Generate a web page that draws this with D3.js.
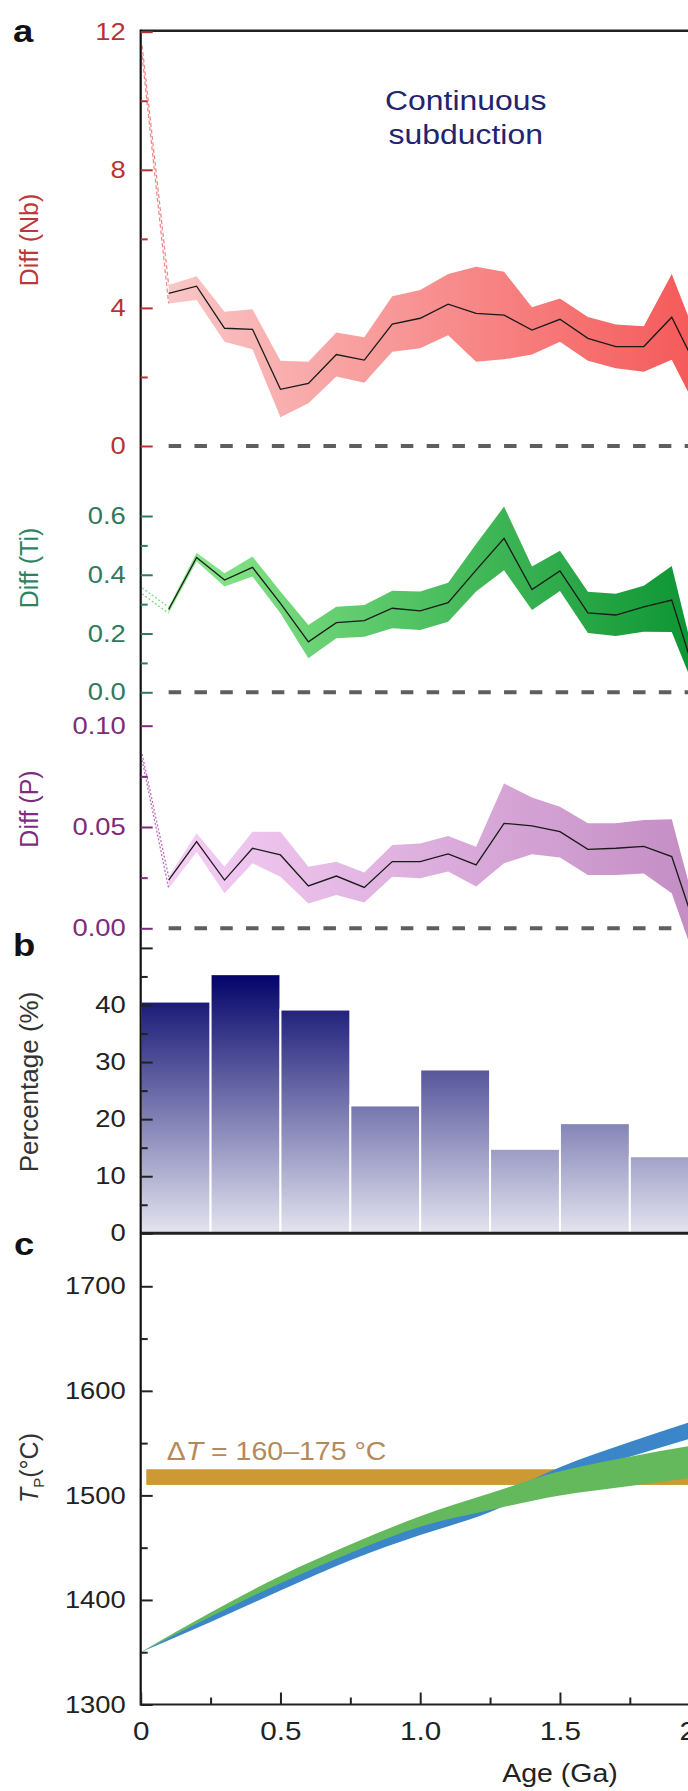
<!DOCTYPE html>
<html lang="en">
<head>
<meta charset="UTF-8">
<title>Diff, percentage and Tp against age</title>
<script src="https://d3js.org/d3.v7.min.js"></script>
<style>
  body { margin: 0; background: #fff; }
  svg { display: block; font-family: "Liberation Sans", Arial, sans-serif; }
</style>
</head>
<body>
<svg id="chart" width="688" height="1791"></svg>
<script>
// ---- data ----
const ages = [0.1, 0.2, 0.3, 0.4, 0.5, 0.6, 0.7, 0.8, 0.9, 1.0, 1.1, 1.2, 1.3, 1.4, 1.5, 1.6, 1.7, 1.8, 1.9, 2.0];

const nbMean  = [4.42, 4.63, 3.41, 3.38, 1.64, 1.81, 2.65, 2.49, 3.53, 3.70, 4.11, 3.84, 3.79, 3.36, 3.67, 3.12, 2.88, 2.88, 3.73, 2.10];
const nbUpper = [4.66, 4.92, 3.89, 3.96, 2.47, 2.44, 3.29, 3.15, 4.34, 4.52, 4.98, 5.19, 5.05, 4.02, 4.27, 3.74, 3.52, 3.47, 4.98, 2.90];
const nbLower = [4.13, 4.23, 3.02, 2.80, 0.83, 1.24, 2.01, 1.83, 2.73, 2.83, 3.21, 2.44, 2.51, 2.65, 3.02, 2.47, 2.25, 2.15, 2.50, 0.90];
const nbLead  = [11.6, 11.3];

const tiMean  = [0.282, 0.459, 0.382, 0.425, 0.303, 0.172, 0.237, 0.244, 0.286, 0.277, 0.305, 0.416, 0.524, 0.350, 0.413, 0.270, 0.263, 0.291, 0.314, 0.010];
const tiUpper = [0.290, 0.475, 0.405, 0.462, 0.343, 0.229, 0.291, 0.297, 0.346, 0.343, 0.373, 0.505, 0.632, 0.428, 0.482, 0.342, 0.335, 0.363, 0.430, 0.040];
const tiLower = [0.269, 0.445, 0.360, 0.394, 0.269, 0.116, 0.184, 0.189, 0.218, 0.212, 0.240, 0.343, 0.415, 0.280, 0.345, 0.202, 0.192, 0.206, 0.205, -0.030];
const tiLead  = [0.355, 0.335];

const pMean  = [0.0238, 0.0428, 0.0238, 0.0395, 0.0362, 0.0209, 0.0258, 0.0202, 0.0329, 0.0329, 0.0367, 0.0313, 0.0518, 0.0506, 0.0477, 0.0390, 0.0395, 0.0404, 0.0354, -0.006];
const pUpper = [0.0255, 0.0469, 0.0304, 0.0477, 0.0477, 0.0304, 0.0329, 0.0275, 0.0411, 0.0419, 0.0456, 0.0403, 0.0715, 0.0646, 0.0600, 0.0518, 0.0518, 0.0535, 0.0538, 0.002];
const pLower = [0.0197, 0.0378, 0.0173, 0.0321, 0.0255, 0.0123, 0.0164, 0.0127, 0.0255, 0.0247, 0.0280, 0.0206, 0.0321, 0.0366, 0.0350, 0.0263, 0.0263, 0.0271, 0.0173, -0.022];
const pLead  = [0.086, 0.083];

const barStarts = [0, 0.25, 0.5, 0.75, 1.0, 1.25, 1.5, 1.75];
const barValues = [40.6, 45.4, 39.2, 22.4, 28.7, 14.8, 19.3, 13.5];

const tpAges       = [0, 0.25, 0.5, 0.75, 1.0, 1.25, 1.5, 1.75, 2.0];
const blueUpper    = [1350, 1385, 1417, 1446, 1472, 1497, 1527, 1551, 1573];
const blueLower    = [1350, 1379, 1409, 1438, 1462, 1484, 1516, 1537, 1557];
const greenUpper   = [1350, 1388, 1423, 1453, 1480, 1502, 1523, 1537, 1549];
const greenLower   = [1350, 1384, 1416, 1445, 1470, 1486, 1500, 1509, 1518];
const deltaTBand   = [1510, 1525];

// ---- layout ----
const SX = 1.14;           // the figure is a little wider than tall in its type
const X0 = 140.7;
const svg = d3.select("#chart");
const defs = svg.append("defs");

const x = d3.scaleLinear().domain([0, 2]).range([X0, 699.7]);
const xEnd = x(2.6);

const yNb = d3.scaleLinear().domain([0, 12]).range([446, 31.7]);
const yTi = d3.scaleLinear().domain([0, 0.6]).range([692.3, 516]);
const yP  = d3.scaleLinear().domain([0, 0.1]).range([928.3, 725.7]);
const yB  = d3.scaleLinear().domain([0, 50]).range([1233.3, 947.9]);
const yT  = d3.scaleLinear().domain([1300, 1750]).range([1704.5, 1234]);

function hGrad(id, c0, c1) {
  const g = defs.append("linearGradient").attr("id", id)
    .attr("gradientUnits", "userSpaceOnUse")
    .attr("x1", x(0.1)).attr("x2", x(2.0)).attr("y1", 0).attr("y2", 0);
  g.append("stop").attr("offset", 0).attr("stop-color", c0);
  g.append("stop").attr("offset", 1).attr("stop-color", c1);
}
hGrad("gNb", "#fac6c6", "#f55858");
hGrad("gTi", "#8eea8e", "#0c9432");
hGrad("gP", "#f5cef5", "#c38dc3");

const barGrad = defs.append("linearGradient").attr("id", "gBar")
  .attr("gradientUnits", "userSpaceOnUse")
  .attr("x1", 0).attr("x2", 0).attr("y1", yB(45.4)).attr("y2", yB(0));
barGrad.append("stop").attr("offset", 0).attr("stop-color", "#03036a");
barGrad.append("stop").attr("offset", 1).attr("stop-color", "#e4e4f0");

// stretch text horizontally around its own anchor
function stretch(sel) {
  sel.each(function() {
    const t = d3.select(this);
    const tx = +t.attr("x") || 0;
    t.attr("x", tx / SX).attr("transform", `scale(${SX},1)`);
  });
}
function label(px, py, txt, opts) {
  const t = svg.append("text")
    .attr("transform", `translate(${px},${py}) scale(${SX},1)`)
    .attr("font-size", opts.size)
    .attr("fill", opts.color || "#222")
    .attr("text-anchor", opts.anchor || "start")
    .attr("font-weight", opts.weight || "normal")
    .text(txt);
  return t;
}
function vlabel(px, py, txt, size, color) {
  return svg.append("text")
    .attr("transform", `translate(${px},${py}) rotate(-90)`)
    .attr("text-anchor", "middle").attr("dy", "0.35em")
    .attr("font-size", size).attr("fill", color)
    .text(txt);
}

// ---- zero reference lines ----
[yNb, yTi, yP].forEach(s => {
  svg.append("line")
    .attr("x1", x(0.1)).attr("x2", xEnd)
    .attr("y1", s(0)).attr("y2", s(0))
    .attr("stroke", "#5e5e5e").attr("stroke-width", 4)
    .attr("stroke-dasharray", "12.5,13.3");
});

// ---- panel a: difference bands ----
const diffPanels = [
  { y: yNb, mean: nbMean, up: nbUpper, lo: nbLower, lead: nbLead, fill: "url(#gNb)", leadColor: "#f08a8a", dash: "4,2.5" },
  { y: yTi, mean: tiMean, up: tiUpper, lo: tiLower, lead: tiLead, fill: "url(#gTi)", leadColor: "#7fd87f", dash: "2,2" },
  { y: yP,  mean: pMean,  up: pUpper,  lo: pLower,  lead: pLead,  fill: "url(#gP)",  leadColor: "#c06cc0", dash: "2,2" }
];
const idx = d3.range(ages.length);

diffPanels.forEach(p => {
  const area = d3.area()
    .x(i => x(ages[i]))
    .y0(i => p.y(p.lo[i]))
    .y1(i => p.y(p.up[i]));
  svg.append("path").datum(idx).attr("d", area).attr("fill", p.fill);

  const line = d3.line().x(i => x(ages[i])).y(i => p.y(p.mean[i]));
  svg.append("path").datum(idx).attr("d", line)
    .attr("fill", "none").attr("stroke", "#1a1a1a").attr("stroke-width", 1.3);

  // leading segments from age 0 to the first sample
  [[p.lead[0], p.up[0]], [p.lead[1], p.lo[0]]].forEach(([a, b]) => {
    svg.append("line")
      .attr("x1", x(0.005)).attr("y1", p.y(a))
      .attr("x2", x(ages[0])).attr("y2", p.y(b))
      .attr("stroke", p.leadColor).attr("stroke-width", 1.3)
      .attr("stroke-dasharray", p.dash);
  });
});

// ---- panel b: bars ----
svg.append("g").selectAll("rect").data(barValues).join("rect")
  .attr("x", (d, i) => x(barStarts[i]))
  .attr("width", (d, i) => x(barStarts[i] + 0.25) - x(barStarts[i]))
  .attr("y", d => yB(d))
  .attr("height", d => yB(0) - yB(d))
  .attr("fill", "url(#gBar)")
  .attr("stroke", "#fff").attr("stroke-width", 2);

// ---- panel c: potential temperature ----
svg.append("rect")
  .attr("x", x(0.02)).attr("width", xEnd - x(0.02))
  .attr("y", yT(deltaTBand[1])).attr("height", yT(deltaTBand[0]) - yT(deltaTBand[1]))
  .attr("fill", "#cc9933");

const tIdx = d3.range(tpAges.length);
function tpBand(up, lo, color) {
  const a = d3.area().curve(d3.curveMonotoneX)
    .x(i => x(tpAges[i])).y0(i => yT(lo[i])).y1(i => yT(up[i]));
  svg.append("path").datum(tIdx).attr("d", a).attr("fill", color);
}
tpBand(blueUpper, blueLower, "#3a86c8");
tpBand(greenUpper, greenLower, "#64b95c");

const dT = svg.append("text")
  .attr("transform", `translate(${x(0.093)},1460) scale(${SX},1)`)
  .attr("font-size", 25).attr("fill", "#b5895a");
dT.append("tspan").text("\u0394");
dT.append("tspan").attr("font-style", "italic").text("T");
dT.append("tspan").text(" = 160\u2013175 \u00b0C");

// ---- frame lines ----
svg.append("line").attr("x1", X0).attr("x2", xEnd).attr("y1", 30.7).attr("y2", 30.7)
  .attr("stroke", "#222").attr("stroke-width", 2.5);
svg.append("line").attr("x1", X0).attr("x2", xEnd).attr("y1", yB(0)).attr("y2", yB(0))
  .attr("stroke", "#222").attr("stroke-width", 3);
svg.append("line").attr("x1", X0).attr("x2", xEnd).attr("y1", yT(1300)).attr("y2", yT(1300))
  .attr("stroke", "#222").attr("stroke-width", 2.2);
svg.append("line").attr("x1", X0).attr("x2", X0).attr("y1", 29.5).attr("y2", yT(1300) + 1)
  .attr("stroke", "#111").attr("stroke-width", 2.2);

// ---- left axes ----
function leftAxis(scale, major, minor, fmt, color) {
  const g = svg.append("g").attr("transform", `translate(${X0},0)`);
  g.call(d3.axisLeft(scale).tickValues(major).tickFormat(fmt)
    .tickSizeInner(-12).tickSizeOuter(0).tickPadding(15));
  g.select(".domain").remove();
  g.selectAll(".tick line").attr("stroke", color).attr("stroke-width", 2);
  g.selectAll(".tick text").attr("fill", color).attr("font-size", 24)
    .attr("font-family", "Liberation Sans, Arial, sans-serif").call(stretch);
  const m = svg.append("g").attr("transform", `translate(${X0},0)`);
  m.call(d3.axisLeft(scale).tickValues(minor).tickFormat("").tickSizeInner(-7).tickSizeOuter(0));
  m.select(".domain").remove();
  m.selectAll(".tick line").attr("stroke", color).attr("stroke-width", 2);
}
leftAxis(yNb, [0, 4, 8, 12], [2, 6, 10], d3.format("d"), "#b73333");
leftAxis(yTi, [0, 0.2, 0.4, 0.6], [0.1, 0.3, 0.5], d3.format(".1f"), "#2d7a5f");
leftAxis(yP, [0, 0.05, 0.1], [0.025, 0.075], d3.format(".2f"), "#7d2b7b");
leftAxis(yB, [0, 10, 20, 30, 40, 50], [5, 15, 25, 35, 45], d => d === 50 ? "" : d, "#222");
leftAxis(yT, [1300, 1400, 1500, 1600, 1700], [1350, 1450, 1550, 1650], d3.format("d"), "#222");

// ---- bottom axis ----
const bx = svg.append("g").attr("transform", `translate(0,${yT(1300)})`);
bx.call(d3.axisBottom(x).tickValues([0, 0.5, 1, 1.5, 2])
  .tickFormat(d => d === 0 ? "0" : d3.format(".1f")(d))
  .tickSizeInner(-12).tickSizeOuter(0).tickPadding(17));
bx.select(".domain").remove();
bx.selectAll(".tick line").attr("stroke", "#222").attr("stroke-width", 2);
bx.selectAll(".tick text").attr("fill", "#222").attr("font-size", 26)
  .attr("font-family", "Liberation Sans, Arial, sans-serif").call(stretch);
const bm = svg.append("g").attr("transform", `translate(0,${yT(1300)})`);
bm.call(d3.axisBottom(x).tickValues([0.25, 0.75, 1.25, 1.75]).tickFormat("")
  .tickSizeInner(-7).tickSizeOuter(0));
bm.select(".domain").remove();
bm.selectAll(".tick line").attr("stroke", "#222").attr("stroke-width", 2);

label(560, 1782, "Age (Ga)", { size: 25, anchor: "middle" });

// ---- axis titles ----
vlabel(29, 240, "Diff (Nb)", 25, "#bb3838");
vlabel(29, 568, "Diff (Ti)", 25, "#2e8262");
vlabel(29, 809, "Diff (P)", 25, "#7d2d7d");
vlabel(29, 1082, "Percentage (%)", 26, "#333");

const tp = svg.append("text")
  .attr("transform", "translate(29,1468) rotate(-90)")
  .attr("text-anchor", "middle").attr("dy", "0.35em")
  .attr("font-size", 25).attr("fill", "#333");
tp.append("tspan").attr("font-style", "italic").text("T");
tp.append("tspan").attr("font-size", 15).attr("dy", 6).text("P");
tp.append("tspan").attr("dy", -6).text("(\u00b0C)");

// ---- annotations ----
label(465.7, 109.5, "Continuous", { size: 28, anchor: "middle", color: "#23246e" });
label(465.7, 144, "subduction", { size: 28, anchor: "middle", color: "#23246e" });

label(13, 42, "a", { size: 32, weight: "bold", color: "#111" });
label(13, 956, "b", { size: 32, weight: "bold", color: "#111" });
label(14, 1255, "c", { size: 32, weight: "bold", color: "#111" });
</script>
</body>
</html>
